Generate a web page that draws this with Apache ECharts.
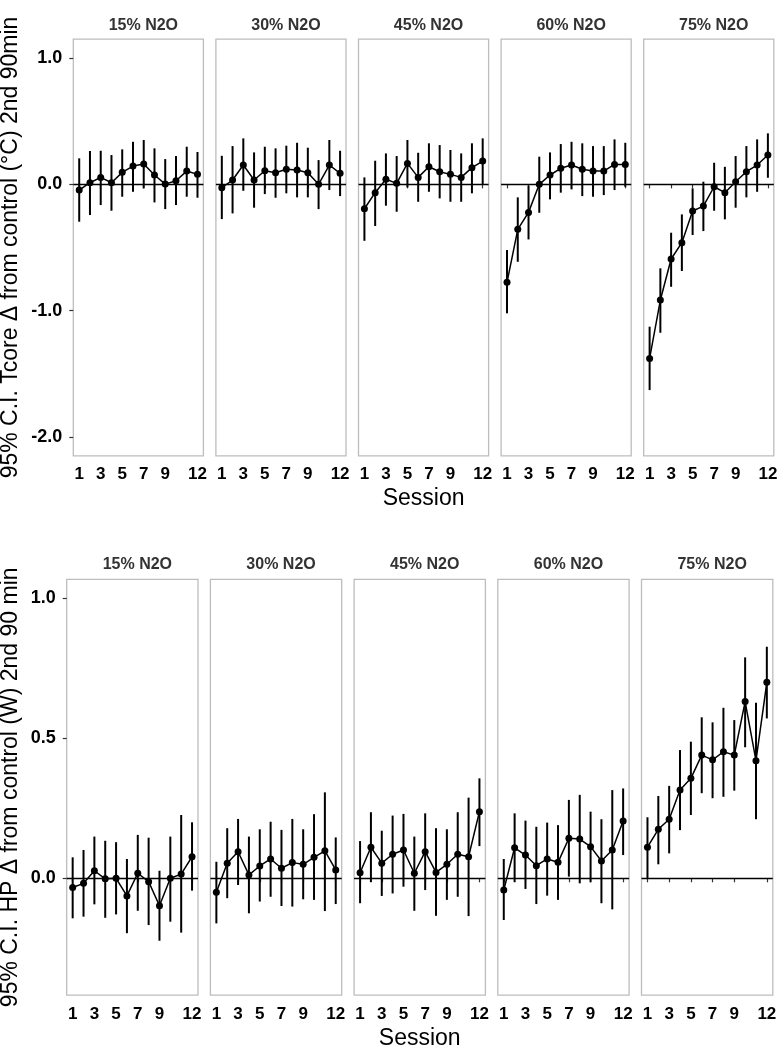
<!DOCTYPE html>
<html>
<head>
<meta charset="utf-8">
<script src="https://cdn.jsdelivr.net/npm/echarts@6/dist/echarts.min.js"></script>
<style>
html, body { margin: 0; padding: 0; background: #fff; }
#main { width: 777px; height: 1048px; }
</style>
</head>
<body>
<div id="main"></div>
<script>
// sessions and facet labels
var sessions = [1, 2, 3, 4, 5, 6, 7, 8, 9, 10, 11, 12];
var sessionTicks = [1, 3, 5, 7, 9, 12];
var facetNames = ['15% N2O', '30% N2O', '45% N2O', '60% N2O', '75% N2O'];
var tcoreTicks = [-2, -1, 0, 1];
var hpTicks = [0, 0.5, 1];

// Tcore: mean, lower and upper 95% CI
var tcore15   = [-0.045, 0.013, 0.055, 0.013, 0.095, 0.145, 0.161, 0.074, 0.002, 0.029, 0.105, 0.079];
var tcore15Lo = [-0.296, -0.243, -0.164, -0.209, -0.098, -0.059, -0.032, -0.143, -0.196, -0.164, -0.098, -0.106];
var tcore15Hi = [0.206, 0.264, 0.266, 0.232, 0.277, 0.337, 0.351, 0.285, 0.200, 0.224, 0.298, 0.256];

var tcore30   = [-0.027, 0.034, 0.153, 0.034, 0.108, 0.092, 0.119, 0.113, 0.092, 0.000, 0.153, 0.087];
var tcore30Lo = [-0.275, -0.230, -0.051, -0.185, -0.077, -0.106, -0.071, -0.103, -0.103, -0.196, -0.045, -0.093];
var tcore30Hi = [0.226, 0.303, 0.364, 0.253, 0.298, 0.285, 0.306, 0.329, 0.290, 0.192, 0.351, 0.266];

var tcore45   = [-0.193, -0.066, 0.040, 0.008, 0.166, 0.055, 0.139, 0.100, 0.079, 0.055, 0.132, 0.184];
var tcore45Lo = [-0.447, -0.330, -0.169, -0.217, -0.024, -0.138, -0.059, -0.111, -0.138, -0.138, -0.071, 0.002];
var tcore45Hi = [0.055, 0.187, 0.245, 0.224, 0.351, 0.250, 0.325, 0.311, 0.272, 0.245, 0.325, 0.364];

var tcore60   = [-0.776, -0.356, -0.222, 0.000, 0.074, 0.127, 0.153, 0.119, 0.105, 0.105, 0.158, 0.158];
var tcore60Lo = [-1.021, -0.613, -0.436, -0.225, -0.119, -0.066, -0.040, -0.093, -0.098, -0.085, -0.045, -0.019];
var tcore60Hi = [-0.520, -0.103, -0.011, 0.219, 0.253, 0.319, 0.337, 0.325, 0.303, 0.303, 0.356, 0.329];

var tcore75   = [-1.378, -0.916, -0.591, -0.462, -0.211, -0.172, -0.019, -0.066, 0.021, 0.100, 0.153, 0.232];
var tcore75Lo = [-1.629, -1.175, -0.811, -0.686, -0.401, -0.370, -0.209, -0.277, -0.185, -0.103, -0.059, 0.052];
var tcore75Hi = [-1.127, -0.665, -0.383, -0.238, -0.032, 0.021, 0.171, 0.139, 0.224, 0.303, 0.356, 0.404];

// HP: mean, lower and upper 95% CI
var hp15   = [-0.033, -0.018, 0.027, -0.002, 0.000, -0.063, 0.018, -0.012, -0.098, 0.000, 0.015, 0.077];
var hp15Lo = [-0.143, -0.137, -0.093, -0.141, -0.129, -0.196, -0.116, -0.167, -0.223, -0.155, -0.194, -0.044];
var hp15Hi = [0.075, 0.101, 0.149, 0.134, 0.129, 0.069, 0.155, 0.145, 0.027, 0.149, 0.226, 0.200];

var hp30   = [-0.050, 0.054, 0.095, 0.012, 0.044, 0.069, 0.036, 0.056, 0.050, 0.075, 0.098, 0.030];
var hp30Lo = [-0.161, -0.071, -0.024, -0.125, -0.083, -0.066, -0.099, -0.101, -0.075, -0.077, -0.117, -0.092];
var hp30Hi = [0.059, 0.179, 0.212, 0.149, 0.175, 0.202, 0.173, 0.212, 0.175, 0.229, 0.307, 0.146];

var hp45   = [0.020, 0.111, 0.054, 0.086, 0.101, 0.018, 0.095, 0.021, 0.050, 0.086, 0.077, 0.238];
var hp45Lo = [-0.089, -0.014, -0.063, -0.054, -0.030, -0.116, -0.042, -0.134, -0.077, -0.066, -0.135, 0.115];
var hp45Hi = [0.133, 0.236, 0.170, 0.224, 0.230, 0.149, 0.232, 0.179, 0.175, 0.236, 0.288, 0.357];

var hp60   = [-0.042, 0.109, 0.083, 0.045, 0.069, 0.057, 0.143, 0.140, 0.113, 0.062, 0.101, 0.205];
var hp60Lo = [-0.149, -0.014, -0.038, -0.092, -0.062, -0.077, 0.006, -0.018, -0.014, -0.089, -0.111, 0.083];
var hp60Hi = [0.069, 0.232, 0.206, 0.184, 0.199, 0.190, 0.280, 0.298, 0.238, 0.211, 0.315, 0.321];

var hp75   = [0.111, 0.175, 0.211, 0.315, 0.357, 0.440, 0.423, 0.452, 0.440, 0.631, 0.420, 0.700];
var hp75Lo = [0.000, 0.050, 0.089, 0.172, 0.226, 0.304, 0.286, 0.291, 0.313, 0.468, 0.211, 0.571];
var hp75Hi = [0.218, 0.294, 0.330, 0.458, 0.488, 0.575, 0.557, 0.609, 0.565, 0.789, 0.627, 0.827];

var FONT = '"Liberation Sans", Arial, sans-serif';

var rows = [
    {
        means: [tcore15, tcore30, tcore45, tcore60, tcore75],
        lows:  [tcore15Lo, tcore30Lo, tcore45Lo, tcore60Lo, tcore75Lo],
        highs: [tcore15Hi, tcore30Hi, tcore45Hi, tcore60Hi, tcore75Hi],
        ticks: tcoreTicks, min: -2.15, max: 1.15,
        lefts: [73.3, 215.9, 358.5, 501.1, 643.7], width: 130.1,
        top: 39.1, height: 416.8,
        yName: '95% C.I. Tcore \u0394 from control (\u00b0C) 2nd 90min', yGap: 51,
        labelMargin: 10, xNameGap: 31, stripY: 13
    },
    {
        means: [hp15, hp30, hp45, hp60, hp75],
        lows:  [hp15Lo, hp30Lo, hp45Lo, hp60Lo, hp75Lo],
        highs: [hp15Hi, hp30Hi, hp45Hi, hp60Hi, hp75Hi],
        ticks: hpTicks, min: -0.4175, max: 1.0675,
        lefts: [66.7, 210.4, 354.1, 497.8, 641.5], width: 131.3,
        top: 579.4, height: 415.8,
        yName: '95% C.I. HP \u0394 from control (W) 2nd 90 min', yGap: 45,
        labelMargin: 11, xNameGap: 32, stripY: 552
    }
];

var grids = [], xAxes = [], yAxes = [], series = [], titles = [];

rows.forEach(function (row, r) {
    for (var f = 0; f < 5; f++) {
        var idx = grids.length;
        grids.push({
            left: row.lefts[f], top: row.top, width: row.width, height: row.height,
            outerBoundsMode: 'none',
            show: true, borderColor: '#bdbdbd', borderWidth: 1.3, backgroundColor: '#fff'
        });
        xAxes.push({
            gridIndex: idx, type: 'value', min: 0.45, max: 12.55,
            splitLine: { show: false },
            axisLine: { show: false },
            axisTick: { show: true, customValues: sessionTicks, length: 4, lineStyle: { color: '#333', width: 1.2 } },
            axisLabel: { show: true, customValues: sessionTicks, margin: row.labelMargin,
                fontFamily: FONT, fontSize: 17, fontWeight: 'bold', color: '#000' },
            name: f === 2 ? 'Session' : '',
            nameLocation: 'middle', nameGap: row.xNameGap,
            nameTextStyle: { fontFamily: FONT, fontSize: 23, color: '#000' }
        });
        yAxes.push({
            gridIndex: idx, type: 'value', min: row.min, max: row.max,
            splitLine: { show: false },
            axisLine: { show: false },
            axisTick: { show: f === 0, customValues: row.ticks, length: 4, lineStyle: { color: '#333', width: 1.2 } },
            axisLabel: { show: f === 0, customValues: row.ticks, margin: 11,
                fontFamily: FONT, fontSize: 18, fontWeight: 'bold', color: '#000',
                formatter: function (v) { return v.toFixed(1); } },
            name: f === 0 ? row.yName : '',
            nameLocation: 'middle', nameRotate: 90, nameGap: row.yGap,
            nameTextStyle: { fontFamily: FONT, fontSize: 23, color: '#000' }
        });
        titles.push({
            text: facetNames[f],
            left: row.lefts[f] + row.width / 2, top: row.stripY, textAlign: 'center',
            textStyle: { fontFamily: FONT, fontSize: 16, fontWeight: 'bold', color: '#333' }
        });

        var means = row.means[f], lows = row.lows[f], highs = row.highs[f];
        series.push({
            type: 'custom', xAxisIndex: idx, yAxisIndex: idx,
            data: sessions.map(function (s, i) { return [s, lows[i], highs[i]]; }),
            renderItem: function (params, api) {
                var x = api.value(0);
                var p1 = api.coord([x, api.value(1)]);
                var p2 = api.coord([x, api.value(2)]);
                return { type: 'line', shape: { x1: p1[0], y1: p1[1], x2: p2[0], y2: p2[1] },
                    style: { stroke: '#000', lineWidth: 2 } };
            },
            z: 3
        });
        series.push({
            type: 'line', xAxisIndex: idx, yAxisIndex: idx,
            data: sessions.map(function (s, i) { return [s, means[i]]; }),
            symbol: 'circle', symbolSize: 7,
            itemStyle: { color: '#000' },
            lineStyle: { color: '#000', width: 1.5 },
            markLine: {
                silent: true, symbol: 'none', label: { show: false },
                lineStyle: { color: '#000', width: 1.4, type: 'solid' },
                data: [{ yAxis: 0 }]
            },
            z: 4
        });
    }
});

var myChart = echarts.init(document.getElementById('main'));
myChart.setOption({
    animation: false,
    backgroundColor: '#fff',
    title: titles,
    grid: grids,
    xAxis: xAxes,
    yAxis: yAxes,
    series: series
});
</script>
</body>
</html>
